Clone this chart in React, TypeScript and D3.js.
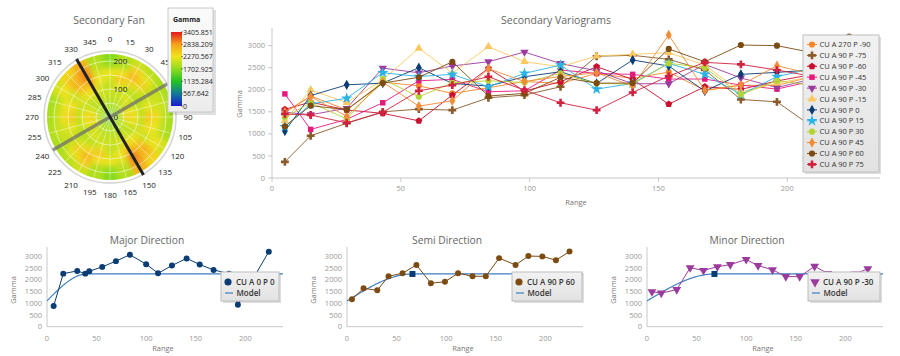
import React from "react";
import * as d3 from "d3";

// ---------------- DATA ----------------
const lags = [5, 15, 29, 43, 57, 70, 84, 98, 112, 126, 140, 154, 168, 182, 196, 210, 224];

const seriesNames = [
  "CU A 270 P -90", "CU A 90 P -75", "CU A 90 P -60", "CU A 90 P -45",
  "CU A 90 P -30", "CU A 90 P -15", "CU A 90 P 0", "CU A 90 P 15",
  "CU A 90 P 30", "CU A 90 P 45", "CU A 90 P 60", "CU A 90 P 75",
];
const seriesColors = [
  "#f5872d", "#8a5a2b", "#c9102f", "#e8197d", "#9c3b9e", "#fbc860",
  "#0b3d75", "#29b3e6", "#b5d334", "#f28c36", "#7b4b12", "#d0213f",
];
const seriesShapes = [
  "circle", "cross", "pentagon", "square", "triangleDown", "triangle",
  "diamond", "star", "circle", "diamond", "circle", "cross",
];

const gA270Pm90 = [1480, 1860, 1542, 2172, 2089, 1917, 2045, 2187, 2144, 2371, 2257, 2400, 1986, 2100, 2100, 2300, 2250];
const gA90Pm75 = [365, 957, 1240, 1500, 1561, 1538, 1818, 1879, 2068, 2760, 2780, 2690, 2450, 1780, 1727, 1150, 1400];
const gA90Pm60 = [1557, 1720, 1542, 1466, 1295, 1879, 2485, 1970, 2182, 2523, 2235, 1674, 2068, 2008, 2200, 2350, 2300];
const gA90Pm45 = [1906, 1101, 1329, 1705, 2204, 2235, 1955, 1977, 2447, 2371, 2349, 2243, 2243, 2106, 2015, 2200, 2300];
const gA90Pm30 = [1492, 1434, 1580, 2490, 2385, 2540, 2635, 2855, 2595, 2429, 2136, 2136, 2575, 2268, 2050, 2250, 2472];
const gA90Pm15 = [1300, 1997, 1709, 2225, 2940, 2380, 2977, 2637, 2520, 2765, 2803, 2840, 2560, 1950, 2150, 2300, 2350];
const gA90P0 = [1063, 1868, 2111, 2150, 2500, 2144, 2083, 2295, 2409, 2143, 2674, 2538, 1970, 2349, 2394, 2450, 2400];
const gA90P15 = [1162, 1678, 1808, 2386, 2301, 2349, 2068, 2371, 2560, 2015, 2144, 2598, 2349, 1894, 2296, 2485, 2500];
const gA90P30 = [1375, 1709, 1337, 2240, 1841, 2159, 2204, 2166, 2371, 2143, 2128, 2600, 2500, 1894, 2204, 2100, 2200];
const gA90P45 = [1500, 1845, 1400, 2172, 1629, 1750, 2476, 2187, 2300, 2386, 2083, 3243, 1986, 2106, 2545, 2350, 2300];
const gA90P60 = [1170, 1639, 1551, 2151, 2282, 2634, 1858, 1917, 2282, 2151, 2151, 2926, 2634, 3014, 3000, 2839, 3204];
const gA90P75 = [1450, 1428, 1250, 1489, 1977, 2106, 2295, 1990, 1705, 1538, 1939, 2310, 2621, 2576, 2447, 2300, 2350];

const seriesValues = [
  gA270Pm90, gA90Pm75, gA90Pm60, gA90Pm45, gA90Pm30, gA90Pm15,
  gA90P0, gA90P15, gA90P30, gA90P45, gA90P60, gA90P75,
];

const majorX = [6.7, 16.4, 30.5, 38.6, 42.6, 55.7, 69.5, 83.6, 100, 112, 126, 140.8, 154, 168, 183.5, 192.5, 223.7];
const majorY = [880, 2264, 2380, 2264, 2365, 2552, 2797, 3071, 2668, 2279, 2610, 2913, 2653, 2423, 2264, 937, 3201];
const semiX = [5, 16.7, 30.5, 41.9, 56, 70, 84.6, 98.8, 112, 126.6, 140, 153.4, 170, 182.9, 197, 210.7, 224.4];
const semiY = [1170, 1639, 1551, 2151, 2282, 2634, 1858, 1917, 2282, 2151, 2151, 2926, 2634, 3014, 3000, 2839, 3204];
const minorX = [5, 14.4, 30, 43.5, 57, 71, 84, 100, 112, 126.6, 140, 154, 169, 182.5, 196, 210, 222.7];
const minorY = [1492, 1434, 1580, 2516, 2400, 2560, 2648, 2867, 2604, 2429, 2136, 2136, 2575, 2268, 2050, 2250, 2472];

// spherical model parameters
const modelNugget = 1100;
const modelSill = 2250;
const majorRange = 40;
const semiRange = 66;
const minorRange = 68;

const yTicks = [0, 500, 1000, 1500, 2000, 2500, 3000];
const mainXTicks = [0, 50, 100, 150, 200];
const smallXTicks = [0, 50, 100, 150, 200];

// fan (variogram map), angles 0..165, mirrored through the centre
const fanAngles = [0, 15, 30, 45, 60, 75, 90, 105, 120, 135, 150, 165];
const fanRadii = [25, 50, 75, 100, 125, 150, 175, 200, 225];
const fanValues = [
  [1500, 1800, 1950, 2050, 1950, 2100, 2250, 1750, 1650],
  [1500, 1850, 2000, 2000, 2200, 2500, 2300, 1900, 1900],
  [1500, 1850, 2000, 2100, 2000, 2400, 2650, 2450, 2050],
  [1550, 1900, 2000, 2200, 1950, 2150, 2450, 2200, 1950],
  [1550, 1950, 2150, 2000, 1900, 2000, 2050, 2000, 1850],
  [1550, 1950, 2300, 2200, 2000, 2200, 2100, 2050, 1900],
  [1550, 2000, 2450, 2350, 2000, 2500, 2350, 2050, 1850],
  [1550, 1950, 2200, 2200, 2000, 2350, 2250, 2000, 1850],
  [1500, 1900, 2000, 1950, 2150, 2050, 2150, 2300, 2100],
  [1500, 1850, 1950, 2050, 2250, 2550, 2700, 2600, 2400],
  [1500, 1850, 1950, 2150, 2350, 2700, 2950, 2900, 2700],
  [1500, 1850, 1950, 2050, 2050, 2250, 2150, 1950, 1900],
];
const fanLabelAngles = [0, 15, 30, 45, 90, 105, 120, 135, 150, 165, 180, 195, 210, 225, 240, 255, 270, 285, 300, 315, 330, 345];
const fanSpokeAngles = d3.range(0, 360, 15);
const fanRadialTicks = [0, 100, 200];
const majorAxisAngle = 330;
const secondAxisAngle = 60;

const gammaStops = [0, 567.642, 1135.284, 1702.925, 2270.567, 2838.209, 3405.851];
const gammaColors = ["#1a1ad0", "#117a9a", "#21c321", "#8fdc1f", "#f0e41a", "#f6a21a", "#e31a1c"];

// ---------------- HELPERS ----------------
const FONT = "'Open Sans', 'Segoe UI', sans-serif";

const pentagonSymbol = {
  draw(ctx: any, size: number) {
    const r = Math.sqrt(size / 2.378);
    for (let i = 0; i < 5; i++) {
      const a = -Math.PI / 2 + (i * 2 * Math.PI) / 5;
      const x = r * Math.cos(a), y = r * Math.sin(a);
      if (i === 0) ctx.moveTo(x, y); else ctx.lineTo(x, y);
    }
    ctx.closePath();
  },
};

const symbolTypes: any = {
  circle: d3.symbolCircle, cross: d3.symbolCross, square: d3.symbolSquare,
  diamond: d3.symbolDiamond, star: d3.symbolStar, triangle: d3.symbolTriangle,
  triangleDown: d3.symbolTriangle, pentagon: pentagonSymbol,
};
const symbolSizes: any = {
  circle: 30, cross: 34, square: 30, diamond: 30, star: 40, triangle: 30, triangleDown: 30, pentagon: 32,
};

function Marker({ shape, x, y, color, size }: any) {
  const s = size ?? symbolSizes[shape];
  const d = d3.symbol(symbolTypes[shape], s)() as string;
  const rot = shape === "triangleDown" ? " rotate(180)" : "";
  return <path d={d} transform={`translate(${x},${y})${rot}`} fill={color} />;
}

function spherical(h: number, a: number) {
  if (h >= a) return modelSill;
  const r = h / a;
  return modelNugget + (modelSill - modelNugget) * (1.5 * r - 0.5 * r * r * r);
}

function LegendBox({ x, y, w, h, id }: any) {
  return (
    <g>
      <rect x={x + 2} y={y + 2} width={w} height={h} fill="rgba(0,0,0,0.13)" />
      <rect x={x} y={y} width={w} height={h} fill={`url(#${id})`} stroke="#bdbdbd" strokeWidth={1} />
    </g>
  );
}

// ---------------- FAN ----------------
function Fan() {
  const cx = 110, cy = 117;
  const rs = d3.scaleLinear().domain([0, 225]).range([0, 63]);
  const color = d3.scaleLinear<string>().domain(gammaStops).range(gammaColors).clamp(true);
  const rad = (deg: number) => (deg * Math.PI) / 180;
  const arc = d3.arc();
  const cells: any[] = [];
  fanAngles.forEach((a, i) => {
    [0, 180].forEach((off) => {
      fanRadii.forEach((ro, j) => {
        const ri = j === 0 ? 0 : fanRadii[j - 1];
        const outer = j === fanRadii.length - 1 ? ro + 20 : ro + 0.5;
        const path = arc({
          innerRadius: rs(ri),
          outerRadius: rs(outer),
          startAngle: rad(a + off - 7.9),
          endAngle: rad(a + off + 7.9),
        } as any) as string;
        cells.push(<path key={`${i}-${off}-${j}`} d={path} fill={color(fanValues[i][j])} />);
      });
    });
  });
  const axisLine = (deg: number, r: number) => {
    const dx = Math.sin(rad(deg)) * r, dy = -Math.cos(rad(deg)) * r;
    return { x1: cx + dx, y1: cy + dy, x2: cx - dx, y2: cy - dy };
  };
  const l1 = axisLine(majorAxisAngle, 67);
  const l2 = axisLine(secondAxisAngle, 66);
  const barY = d3.scaleLinear().domain([0, 3405.851]).range([106, 32]);
  return (
    <g fontFamily={FONT}>
      <text x={109} y={24} textAnchor="middle" fontSize={10.5} fill="#666">Secondary Fan</text>
      <circle cx={cx} cy={cy} r={66} fill="none" stroke="#d4d4d4" strokeWidth={1.5} />
      <g clipPath="url(#fanClip)">
        <g filter="url(#fanBlur)">
          <g transform={`translate(${cx},${cy})`}>{cells}</g>
        </g>
      </g>
      {[50, 100, 150, 200].map((r) => (
        <circle key={r} cx={cx} cy={cy} r={rs(r)} fill="none" stroke="rgba(255,255,255,0.65)" strokeWidth={0.8} />
      ))}
      {fanSpokeAngles.map((a) => (
        <line key={a} x1={cx} y1={cy} x2={cx + Math.sin(rad(a)) * 63} y2={cy - Math.cos(rad(a)) * 63}
          stroke="rgba(255,255,255,0.6)" strokeWidth={0.7} />
      ))}
      {fanRadialTicks.map((t) => (
        <text key={t} x={cx + 3.5} y={cy - rs(t) + 3} fontSize={8} fill="#222">{t}</text>
      ))}
      <line {...l2} stroke="rgba(110,110,100,0.75)" strokeWidth={3.2} />
      <line {...l1} stroke="#222" strokeWidth={3} />
      {fanLabelAngles.map((a) => (
        <text key={a} x={cx + Math.sin(rad(a)) * 78} y={cy - Math.cos(rad(a)) * 78 + 3}
          textAnchor="middle" fontSize={8} fill="#222">{a}</text>
      ))}
      {/* colour legend */}
      <rect x={170} y={10} width={46} height={105} fill="rgba(0,0,0,0.12)" />
      <rect x={168} y={8} width={45} height={104} fill="url(#fanLegGrad)" stroke="#c8c8c8" />
      <text x={173} y={22} fontSize={7} fontWeight="bold" fill="#222">Gamma</text>
      <rect x={171} y={32} width={11} height={74} fill="url(#gammaGrad)" />
      {gammaStops.map((v, i) => (
        <g key={i}>
          <line x1={181} x2={183} y1={barY(v)} y2={barY(v)} stroke="#333" strokeWidth={0.6} />
          <text x={183} y={barY(v) + 2.5} fontSize={7} fill="#222">
            {i === 0 ? "0" : v.toFixed(3)}
          </text>
        </g>
      ))}
    </g>
  );
}

// ---------------- MAIN CHART ----------------
function MainChart() {
  const x = d3.scaleLinear().domain([0, 236]).range([272, 880]);
  const y = d3.scaleLinear().domain([0, 3400]).range([178, 28]);
  const line = d3.line<number>().x((_, i) => x(lags[i])).y((d) => y(d));
  return (
    <g fontFamily={FONT}>
      <text x={556} y={24} textAnchor="middle" fontSize={10.5} fill="#666">Secondary Variograms</text>
      <line x1={272} x2={272} y1={28} y2={178} stroke="#c8c8c8" />
      <line x1={272} x2={880} y1={178} y2={178} stroke="#c8c8c8" />
      {yTicks.map((t) => (
        <g key={t}>
          <line x1={268} x2={272} y1={y(t)} y2={y(t)} stroke="#c8c8c8" />
          <text x={265} y={y(t) + 2.6} textAnchor="end" fontSize={7.5} fill="#999">{t}</text>
        </g>
      ))}
      {mainXTicks.map((t) => (
        <g key={t}>
          <line x1={x(t)} x2={x(t)} y1={178} y2={182} stroke="#c8c8c8" />
          <text x={x(t)} y={191} textAnchor="middle" fontSize={7.5} fill="#999">{t}</text>
        </g>
      ))}
      <text transform="translate(242,104) rotate(-90)" textAnchor="middle" fontSize={7.5} fill="#777">Gamma</text>
      <text x={576} y={205} textAnchor="middle" fontSize={7.5} fill="#777">Range</text>
      {seriesValues.map((vals, s) => (
        <g key={s}>
          <path d={line(vals) as string} fill="none" stroke={seriesColors[s]} strokeWidth={1} strokeOpacity={0.9} />
          {vals.map((v, i) => (
            <Marker key={i} shape={seriesShapes[s]} x={x(lags[i])} y={y(v)} color={seriesColors[s]} />
          ))}
        </g>
      ))}
      <LegendBox x={803} y={35} w={76} h={137} id="legGrad" />
      {seriesNames.map((n, i) => {
        const yy = 44.5 + i * 10.9;
        return (
          <g key={n}>
            <line x1={807} x2={817} y1={yy} y2={yy} stroke={seriesColors[i]} strokeWidth={1} />
            <Marker shape={seriesShapes[i]} x={812} y={yy} color={seriesColors[i]} />
            <text x={819.5} y={yy + 2.6} fontSize={7.5} fill="#333">{n}</text>
          </g>
        );
      })}
    </g>
  );
}

// ---------------- SMALL CHARTS ----------------
function SmallChart({ x0, title, xs, ys, color, shape, label, range, showSquare, legX, legW }: any) {
  const x = d3.scaleLinear().domain([0, 238]).range([x0, x0 + 236]);
  const y = d3.scaleLinear().domain([0, 3400]).range([326.7, 247]);
  const line = d3.line<number>().x((_, i) => x(xs[i])).y((d) => y(d));
  const hs = d3.range(0, 238.5, 1);
  const model = d3.line<number>().x((h) => x(h)).y((h) => y(spherical(h, range)));
  return (
    <g fontFamily={FONT}>
      <text x={x0 + 100} y={244} textAnchor="middle" fontSize={10.3} fill="#666">{title}</text>
      <line x1={x0} x2={x0} y1={247} y2={326.7} stroke="#c8c8c8" />
      <line x1={x0} x2={x0 + 236} y1={326.7} y2={326.7} stroke="#c8c8c8" />
      {yTicks.map((t) => (
        <text key={t} x={x0 - 5} y={y(t) + 2.6} textAnchor="end" fontSize={7.5} fill="#999">{t}</text>
      ))}
      {smallXTicks.map((t) => (
        <text key={t} x={x(t)} y={341} textAnchor="middle" fontSize={7.5} fill="#999">{t}</text>
      ))}
      <text transform={`translate(${x0 - 31},290) rotate(-90)`} textAnchor="middle" fontSize={7.5} fill="#777">Gamma</text>
      <text x={x0 + 116} y={351} textAnchor="middle" fontSize={7.5} fill="#777">Range</text>
      <path d={model(hs) as string} fill="none" stroke="#3f7fbf" strokeWidth={1.2} />
      {showSquare && (
        <rect x={x(range) - 3} y={y(modelSill) - 3} width={6} height={6} fill="#0b3d75" />
      )}
      <path d={line(ys) as string} fill="none" stroke={color} strokeWidth={1} />
      {ys.map((v: number, i: number) => (
        <Marker key={i} shape={shape} x={x(xs[i])} y={y(v)} color={color} size={shape === "circle" ? 28 : 34} />
      ))}
      <LegendBox x={legX} y={272} w={legW} h={29} id="legGrad" />
      <Marker shape={shape} x={legX + 7} y={282} color={color} size={40} />
      <text x={legX + 15} y={285} fontSize={8} fontWeight={600} fill="#333">{label}</text>
      <line x1={legX + 4} x2={legX + 12} y1={293} y2={293} stroke="#3f7fbf" strokeWidth={1.2} />
      <text x={legX + 15.5} y={296} fontSize={8} fontWeight={600} fill="#333">Model</text>
    </g>
  );
}

export default function App() {
  return (
    <svg width={900} height={356} style={{ position: "absolute", left: 0, top: 0, background: "#fff" }}>
      <defs>
        <clipPath id="fanClip"><circle cx={110} cy={117} r={63} /></clipPath>
        <filter id="fanBlur" x="-20%" y="-20%" width="140%" height="140%">
          <feGaussianBlur stdDeviation={2.6} />
        </filter>
        <linearGradient id="gammaGrad" x1="0" y1="1" x2="0" y2="0">
          {gammaStops.map((v, i) => (
            <stop key={i} offset={v / 3405.851} stopColor={gammaColors[i]} />
          ))}
        </linearGradient>
        <linearGradient id="legGrad" x1="0" y1="0" x2="0" y2="1">
          <stop offset="0" stopColor="#f2f2f2" />
          <stop offset="1" stopColor="#e2e2e2" />
        </linearGradient>
        <linearGradient id="fanLegGrad" x1="0" y1="0" x2="0" y2="1">
          <stop offset="0" stopColor="#fbfbfb" />
          <stop offset="1" stopColor="#ececec" />
        </linearGradient>
      </defs>
      <rect width={900} height={356} fill="#fff" />
      <MainChart />
      <Fan />
      <SmallChart x0={47} title="Major Direction" xs={majorX} ys={majorY} color="#0b3d75" shape="circle"
        label="CU A 0 P 0" range={majorRange} showSquare={false} legX={221} legW={58} />
      <SmallChart x0={347} title="Semi Direction" xs={semiX} ys={semiY} color="#7b4b12" shape="circle"
        label="CU A 90 P 60" range={semiRange} showSquare={true} legX={512} legW={70} />
      <SmallChart x0={647} title="Minor Direction" xs={minorX} ys={minorY} color="#9c3b9e" shape="triangleDown"
        label="CU A 90 P -30" range={minorRange} showSquare={true} legX={808} legW={72} />
    </svg>
  );
}
